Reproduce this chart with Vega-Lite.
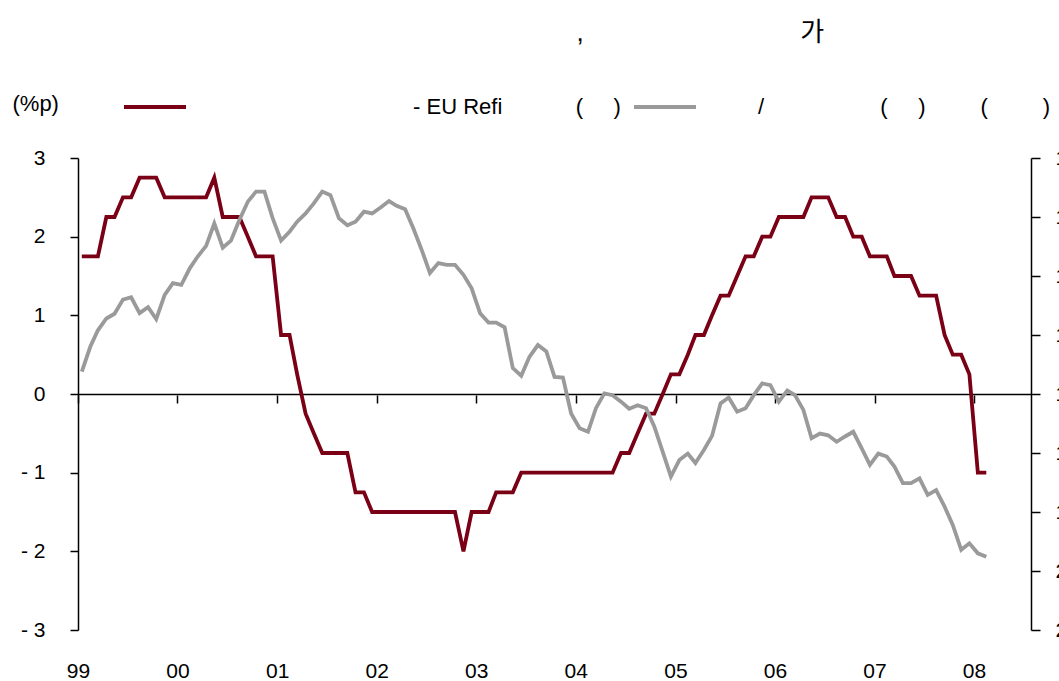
{
  "$schema": "https://vega.github.io/schema/vega-lite/v6.json",
  "width": 953,
  "height": 472,
  "autosize": {"type": "none"},
  "padding": {"left": 78, "top": 158, "right": 28, "bottom": 51},
  "background": "white",
  "config": {
    "font": "Liberation Sans",
    "view": {"stroke": null},
    "axis": {"grid": false, "labelFont": "Liberation Sans", "labelColor": "black", "domainColor": "black", "tickColor": "black", "labelFontSize": 21, "domainWidth": 1.5, "tickWidth": 1.5}
  },
  "title": {
    "text": "\u200b\u00a0\u00a0\u00a0\u00a0\u00a0\u00a0\u00a0\u00a0\u00a0\u00a0\u00a0\u00a0\u00a0\u00a0\u00a0\u00a0\u00a0\u00a0\u00a0\u00a0\u00a0\u00a0\u00a0\u00a0\u00a0\u00a0\u00a0\u00a0\u00a0\u00a0\u00a0\u00a0\u00a0\u00a0\u00a0\u00a0\u00a0\u00a0\u00a0\u00a0\u00a0\u00a0\u00a0\u00a0\u00a0\u00a0\u00a0\u00a0\u00a0\u00a0\u00a0\u00a0\u00a0\u00a0\u00a0\u00a0\u00a0\u00a0\u00a0\u00a0\u00a0\u00a0\u00a0\u00a0\u00a0\u00a0\u00a0\u00a0\u00a0,\u00a0\u00a0\u00a0\u00a0\u00a0\u00a0\u00a0\u00a0\u00a0\u00a0\u00a0\u00a0\u00a0\u00a0\u00a0\u00a0\u00a0\u00a0\u00a0\u00a0\u00a0\u00a0\u00a0\u00a0\u00a0\u00a0\u00a0\u00a0\u00a0\u00a0가",
    "frame": "group",
    "anchor": "start",
    "align": "left",
    "baseline": "alphabetic",
    "offset": 7,
    "font": "Liberation Sans, Noto Sans CJK KR",
    "fontSize": 26,
    "fontWeight": "normal",
    "color": "black"
  },
  "data": {
    "values": [
      {"d": "1999/01/15", "a": 1.75, "b": 166.2},
      {"d": "1999/02/15", "a": 1.75, "b": 162.0},
      {"d": "1999/03/15", "a": 1.75, "b": 159.2},
      {"d": "1999/04/15", "a": 2.25, "b": 157.2},
      {"d": "1999/05/15", "a": 2.25, "b": 156.4},
      {"d": "1999/06/15", "a": 2.5, "b": 154.0},
      {"d": "1999/07/15", "a": 2.5, "b": 153.6},
      {"d": "1999/08/15", "a": 2.75, "b": 156.3},
      {"d": "1999/09/15", "a": 2.75, "b": 155.3},
      {"d": "1999/10/15", "a": 2.75, "b": 157.3},
      {"d": "1999/11/15", "a": 2.5, "b": 153.2},
      {"d": "1999/12/15", "a": 2.5, "b": 151.2},
      {"d": "2000/01/15", "a": 2.5, "b": 151.5},
      {"d": "2000/02/15", "a": 2.5, "b": 148.7},
      {"d": "2000/03/15", "a": 2.5, "b": 146.7},
      {"d": "2000/04/15", "a": 2.5, "b": 144.9},
      {"d": "2000/05/15", "a": 2.75, "b": 141.1},
      {"d": "2000/06/15", "a": 2.25, "b": 145.2},
      {"d": "2000/07/15", "a": 2.25, "b": 144.0},
      {"d": "2000/08/15", "a": 2.25, "b": 140.5},
      {"d": "2000/09/15", "a": 2.0, "b": 137.4},
      {"d": "2000/10/15", "a": 1.75, "b": 135.7},
      {"d": "2000/11/15", "a": 1.75, "b": 135.7},
      {"d": "2000/12/15", "a": 1.75, "b": 140.2},
      {"d": "2001/01/15", "a": 0.75, "b": 144.0},
      {"d": "2001/02/15", "a": 0.75, "b": 142.5},
      {"d": "2001/03/15", "a": 0.25, "b": 140.8},
      {"d": "2001/04/15", "a": -0.25, "b": 139.4},
      {"d": "2001/05/15", "a": -0.5, "b": 137.7},
      {"d": "2001/06/15", "a": -0.75, "b": 135.7},
      {"d": "2001/07/15", "a": -0.75, "b": 136.3},
      {"d": "2001/08/15", "a": -0.75, "b": 140.2},
      {"d": "2001/09/15", "a": -0.75, "b": 141.4},
      {"d": "2001/10/15", "a": -1.25, "b": 140.8},
      {"d": "2001/11/15", "a": -1.25, "b": 139.1},
      {"d": "2001/12/15", "a": -1.5, "b": 139.4},
      {"d": "2002/01/15", "a": -1.5, "b": 138.4},
      {"d": "2002/02/15", "a": -1.5, "b": 137.3},
      {"d": "2002/03/15", "a": -1.5, "b": 138.1},
      {"d": "2002/04/15", "a": -1.5, "b": 138.7},
      {"d": "2002/05/15", "a": -1.5, "b": 141.9},
      {"d": "2002/06/15", "a": -1.5, "b": 145.6},
      {"d": "2002/07/15", "a": -1.5, "b": 149.5},
      {"d": "2002/08/15", "a": -1.5, "b": 147.8},
      {"d": "2002/09/15", "a": -1.5, "b": 148.1},
      {"d": "2002/10/15", "a": -1.5, "b": 148.1},
      {"d": "2002/11/15", "a": -2.0, "b": 149.8},
      {"d": "2002/12/15", "a": -1.5, "b": 152.1},
      {"d": "2003/01/15", "a": -1.5, "b": 156.3},
      {"d": "2003/02/15", "a": -1.5, "b": 157.9},
      {"d": "2003/03/15", "a": -1.25, "b": 157.9},
      {"d": "2003/04/15", "a": -1.25, "b": 158.7},
      {"d": "2003/05/15", "a": -1.25, "b": 165.6},
      {"d": "2003/06/15", "a": -1.0, "b": 166.9},
      {"d": "2003/07/15", "a": -1.0, "b": 163.7},
      {"d": "2003/08/15", "a": -1.0, "b": 161.7},
      {"d": "2003/09/15", "a": -1.0, "b": 162.8},
      {"d": "2003/10/15", "a": -1.0, "b": 167.1},
      {"d": "2003/11/15", "a": -1.0, "b": 167.2},
      {"d": "2003/12/15", "a": -1.0, "b": 173.3},
      {"d": "2004/01/15", "a": -1.0, "b": 175.8},
      {"d": "2004/02/15", "a": -1.0, "b": 176.4},
      {"d": "2004/03/15", "a": -1.0, "b": 172.4},
      {"d": "2004/04/15", "a": -1.0, "b": 169.9},
      {"d": "2004/05/15", "a": -1.0, "b": 170.2},
      {"d": "2004/06/15", "a": -0.75, "b": 171.3},
      {"d": "2004/07/15", "a": -0.75, "b": 172.5},
      {"d": "2004/08/15", "a": -0.5, "b": 171.9},
      {"d": "2004/09/15", "a": -0.25, "b": 172.4},
      {"d": "2004/10/15", "a": -0.25, "b": 175.5},
      {"d": "2004/11/15", "a": 0.0, "b": 179.8},
      {"d": "2004/12/15", "a": 0.25, "b": 184.0},
      {"d": "2005/01/15", "a": 0.25, "b": 181.2},
      {"d": "2005/02/15", "a": 0.5, "b": 180.1},
      {"d": "2005/03/15", "a": 0.75, "b": 181.7},
      {"d": "2005/04/15", "a": 0.75, "b": 179.5},
      {"d": "2005/05/15", "a": 1.0, "b": 177.1},
      {"d": "2005/06/15", "a": 1.25, "b": 171.6},
      {"d": "2005/07/15", "a": 1.25, "b": 170.6},
      {"d": "2005/08/15", "a": 1.5, "b": 173.0},
      {"d": "2005/09/15", "a": 1.75, "b": 172.4},
      {"d": "2005/10/15", "a": 1.75, "b": 170.2},
      {"d": "2005/11/15", "a": 2.0, "b": 168.2},
      {"d": "2005/12/15", "a": 2.0, "b": 168.5},
      {"d": "2006/01/15", "a": 2.25, "b": 171.3},
      {"d": "2006/02/15", "a": 2.25, "b": 169.4},
      {"d": "2006/03/15", "a": 2.25, "b": 170.2},
      {"d": "2006/04/15", "a": 2.25, "b": 172.7},
      {"d": "2006/05/15", "a": 2.5, "b": 177.5},
      {"d": "2006/06/15", "a": 2.5, "b": 176.7},
      {"d": "2006/07/15", "a": 2.5, "b": 177.0},
      {"d": "2006/08/15", "a": 2.25, "b": 178.1},
      {"d": "2006/09/15", "a": 2.25, "b": 177.2},
      {"d": "2006/10/15", "a": 2.0, "b": 176.4},
      {"d": "2006/11/15", "a": 2.0, "b": 179.2},
      {"d": "2006/12/15", "a": 1.75, "b": 182.0},
      {"d": "2007/01/15", "a": 1.75, "b": 180.1},
      {"d": "2007/02/15", "a": 1.75, "b": 180.6},
      {"d": "2007/03/15", "a": 1.5, "b": 182.3},
      {"d": "2007/04/15", "a": 1.5, "b": 185.1},
      {"d": "2007/05/15", "a": 1.5, "b": 185.1},
      {"d": "2007/06/15", "a": 1.25, "b": 184.3},
      {"d": "2007/07/15", "a": 1.25, "b": 187.1},
      {"d": "2007/08/15", "a": 1.25, "b": 186.3},
      {"d": "2007/09/15", "a": 0.75, "b": 189.1},
      {"d": "2007/10/15", "a": 0.5, "b": 192.2},
      {"d": "2007/11/15", "a": 0.5, "b": 196.4},
      {"d": "2007/12/15", "a": 0.25, "b": 195.3},
      {"d": "2008/01/15", "a": -1.0, "b": 197.0},
      {"d": "2008/02/15", "a": -1.0, "b": 197.6}
    ]
  },
  "layer": [
    {
      "mark": {"type": "line", "strokeWidth": 3.8, "interpolate": "linear"},
      "encoding": {
        "x": {
          "field": "d", "type": "temporal",
          "scale": {"domain": [{"year": 1999, "month": 1, "date": 1}, {"year": 2008, "month": 7, "date": 28}], "nice": false},
          "axis": {"orient": "bottom", "title": null, "format": "%y", "tickCount": {"interval": "year", "step": 1}, "domain": false, "ticks": false, "tickSize": 0, "labelPadding": 30, "labelFontSize": 21, "labelFlush": false, "labelOverlap": false, "grid": false}
        },
        "y": {
          "field": "a", "type": "quantitative",
          "scale": {"domain": [-3, 3], "nice": false, "zero": false},
          "axis": {
            "orient": "left", "values": [-3, -2, -1, 0, 1, 2, 3], "tickSize": 8, "labelPadding": 25,
            "labelExpr": "datum.value < 0 ? '- ' + (-datum.value) : '' + datum.value",
            "grid": true, "gridWidth": 1.5,
            "gridColor": {"condition": {"test": "datum.value === 0", "value": "black"}, "value": "transparent"},
            "title": "(%p)", "titleAngle": 0, "titleAlign": "left", "titleBaseline": "middle", "titleX": -66, "titleY": -55,
            "titleFont": "Liberation Sans", "titleFontSize": 22, "titleFontWeight": "normal", "titleColor": "black"
          }
        },
        "color": {
          "datum": "\u200b\u00a0\u00a0\u00a0\u00a0\u00a0\u00a0\u00a0\u00a0\u00a0\u00a0\u00a0\u00a0\u00a0\u00a0\u00a0\u00a0\u00a0\u00a0\u00a0\u00a0\u00a0\u00a0\u00a0\u00a0\u00a0\u00a0\u00a0\u00a0\u00a0\u00a0\u00a0\u00a0\u00a0\u00a0\u00a0\u00a0- EU Refi\u00a0\u00a0\u00a0\u00a0\u00a0\u00a0\u00a0\u00a0\u00a0\u00a0\u00a0\u00a0(\u00a0\u00a0\u00a0\u00a0\u00a0)",
          "type": "nominal",
          "scale": {"range": ["#7a0016"]},
          "legend": {"orient": "none", "legendX": 44, "legendY": -84, "title": null, "symbolType": "stroke", "symbolSize": 3844, "symbolStrokeWidth": 4, "labelFont": "Liberation Sans", "labelFontSize": 22, "labelColor": "black", "labelLimit": 2000, "labelOffset": 5, "padding": 0}
        }
      }
    },
    {
      "mark": {"type": "line", "strokeWidth": 3.8, "interpolate": "linear"},
      "encoding": {
        "x": {
          "field": "d", "type": "temporal",
          "scale": {"domain": [{"year": 1999, "month": 1, "date": 1}, {"year": 2008, "month": 7, "date": 28}], "nice": false},
          "axis": {"orient": "bottom", "offset": -235, "title": null, "labels": false, "domain": false, "ticks": true, "tickSize": 8, "tickWidth": 1.5, "tickCount": {"interval": "year", "step": 1}, "grid": false}
        },
        "y": {
          "field": "b", "type": "quantitative",
          "scale": {"domain": [130, 210], "reverse": true, "nice": false, "zero": false},
          "axis": {"orient": "right", "values": [130, 140, 150, 160, 170, 180, 190, 200, 210], "tickSize": 9, "labelPadding": 15, "labelAlign": "left", "title": null, "grid": false}
        },
        "color": {
          "datum": "\u200b\u00a0\u00a0\u00a0\u00a0\u00a0\u00a0\u00a0\u00a0\u00a0/\u00a0\u00a0\u00a0\u00a0\u00a0\u00a0\u00a0\u00a0\u00a0\u00a0\u00a0\u00a0\u00a0\u00a0\u00a0\u00a0\u00a0\u00a0\u00a0(\u00a0\u00a0\u00a0\u00a0\u00a0)\u00a0\u00a0\u00a0\u00a0\u00a0\u00a0\u00a0\u00a0\u00a0(\u00a0\u00a0\u00a0\u00a0\u00a0\u00a0\u00a0\u00a0\u00a0)",
          "type": "nominal",
          "scale": {"range": ["#9a9a9a"]},
          "legend": {"orient": "none", "legendX": 554, "legendY": -84, "title": null, "symbolType": "stroke", "symbolSize": 3844, "symbolStrokeWidth": 4, "labelFont": "Liberation Sans", "labelFontSize": 22, "labelColor": "black", "labelLimit": 2000, "labelOffset": 5, "padding": 0}
        }
      }
    }
  ],
  "resolve": {
    "scale": {"y": "independent", "color": "independent"},
    "axis": {"x": "independent", "y": "independent"}
  }
}
